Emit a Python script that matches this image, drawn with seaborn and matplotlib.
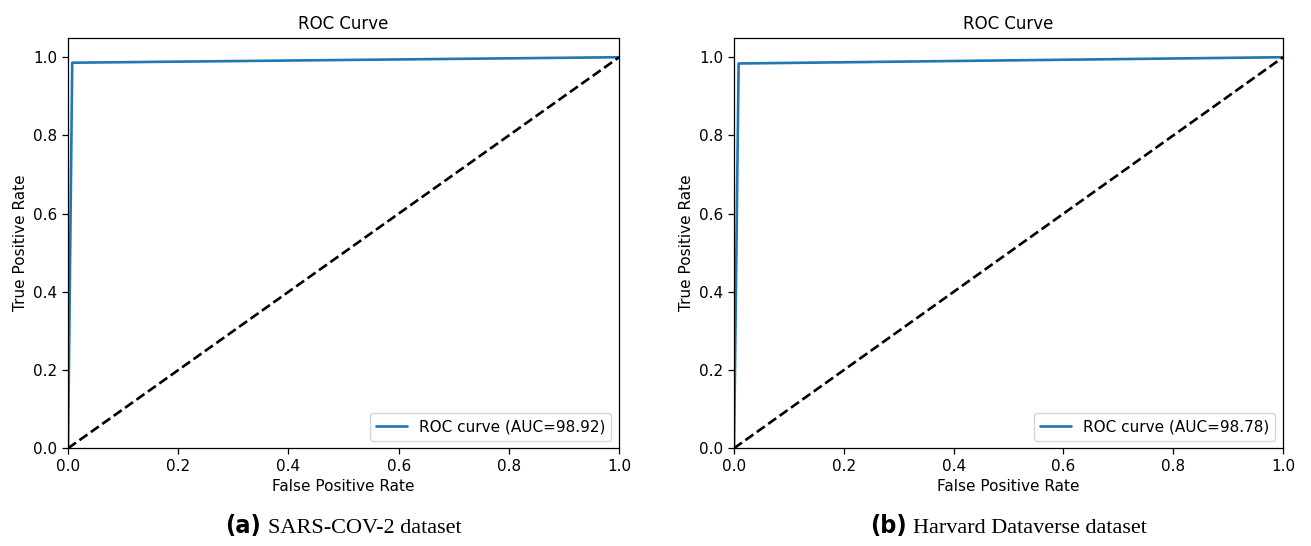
import matplotlib
matplotlib.use("Agg")
import matplotlib.pyplot as plt
import seaborn as sns
from matplotlib.offsetbox import TextArea, HPacker, AnchoredOffsetbox

# ROC points (fpr, tpr)
fpr_a = [0.0, 0.0076, 1.0]
tpr_a = [0.0, 0.986, 1.0]
fpr_b = [0.0, 0.0084, 1.0]
tpr_b = [0.0, 0.984, 1.0]
auc_values = [98.92, 98.78]
chance = [0.0, 1.0]
panel_tags = ["(a)", "(b)"]
panel_names = ["SARS-COV-2 dataset", "Harvard Dataverse dataset"]

sns.set_style("ticks")
plt.rcParams["font.family"] = ["DejaVu Sans"]
plt.rcParams.update({
    "text.color": "black",
    "axes.labelcolor": "black",
    "axes.edgecolor": "black",
    "xtick.color": "black",
    "ytick.color": "black",
})

fig = plt.figure(figsize=(13.11, 5.46), dpi=100)
ax_a = fig.add_axes([0.0519, 0.179, 0.4203, 0.752])
ax_b = fig.add_axes([0.5599, 0.179, 0.4188, 0.752])

for ax, fpr, tpr, auc, tag, name in zip(
    [ax_a, ax_b], [fpr_a, fpr_b], [tpr_a, tpr_b], auc_values, panel_tags, panel_names
):
    sns.lineplot(
        x=fpr, y=tpr, ax=ax, color="#1f77b4", linewidth=1.9,
        estimator=None, sort=False, label=f"ROC curve (AUC={auc:.2f})",
    )
    ax.plot(chance, chance, color="black", linestyle="--", linewidth=1.9)
    ax.set_xlim(0.0, 1.0)
    ax.set_ylim(0.0, 1.05)
    ax.set_xticks([0.0, 0.2, 0.4, 0.6, 0.8, 1.0])
    ax.set_yticks([0.0, 0.2, 0.4, 0.6, 0.8, 1.0])
    ax.tick_params(labelsize=11, length=4, width=0.9)
    for s in ax.spines.values():
        s.set_visible(True)
        s.set_linewidth(0.9)
    ax.set_xlabel("False Positive Rate", fontsize=11)
    ax.set_ylabel("True Positive Rate", fontsize=11)
    ax.set_title("ROC Curve", fontsize=12)
    ax.legend(loc="lower right", fontsize=11)

    # caption under each panel: bold sans tag + serif name
    tag_box = TextArea(tag, textprops=dict(fontsize=18, fontweight="bold",
                                           family="DejaVu Sans", fontstretch="condensed"))
    name_box = TextArea(name, textprops=dict(fontsize=16, family="Liberation Serif"))
    pack = HPacker(children=[tag_box, name_box], align="baseline", pad=0, sep=5)
    anch = AnchoredOffsetbox(loc="center", child=pack, frameon=False,
                             bbox_to_anchor=(0.5, -0.19), bbox_transform=ax.transAxes,
                             borderpad=0.0)
    ax.add_artist(anch)

fig.savefig("out.png", dpi=100)
